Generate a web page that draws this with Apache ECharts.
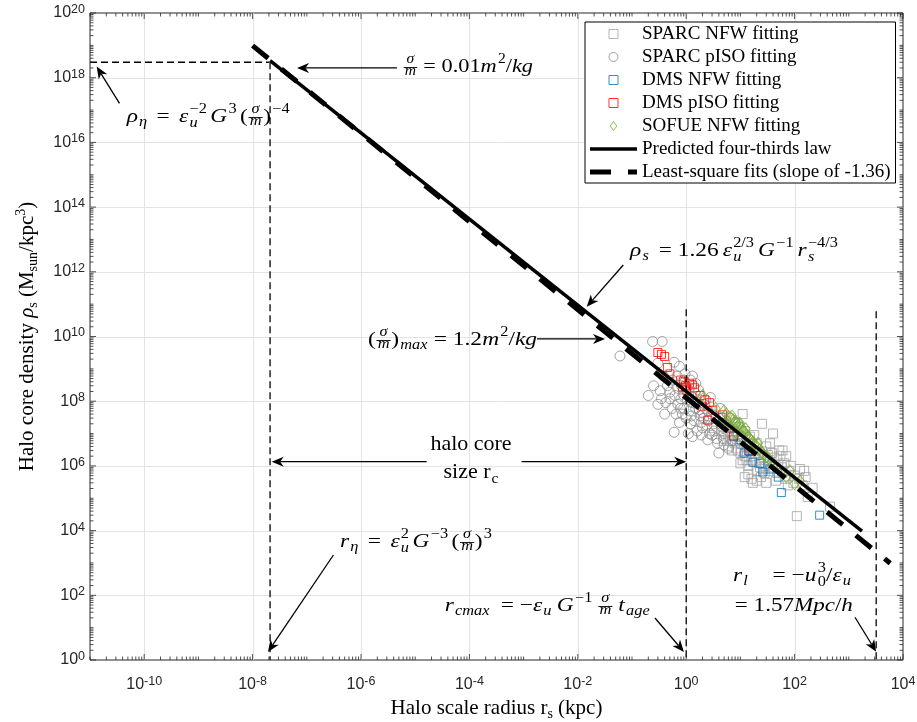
<!DOCTYPE html>
<html>
<head>
<meta charset="utf-8">
<script src="https://cdn.jsdelivr.net/npm/echarts@6/dist/echarts.min.js"></script>
<style>
  html, body { margin: 0; padding: 0; background: #fff; }
  #chart { width: 917px; height: 722px; }
</style>
</head>
<body>
<div id="chart"></div>
<script>
// ---- axes ----
const xRange = [1e-11, 1e4];           // halo scale radius r_s (kpc)
const yRange = [1e0, 1e20];            // halo core density rho_s (Msun/kpc^3)
const xLabelExps = [-10, -8, -6, -4, -2, 0, 2, 4];
const yLabelExps = [0, 2, 4, 6, 8, 10, 12, 14, 16, 18, 20];

// ---- fitted halos: [r_s (kpc), rho_s (Msun/kpc^3)] ----
const sparcNfw = [
  [4.2,3e7],[8,2.2e7],[12,1.2e7],[6,1e7],[10,6e6],[15,8e6],[20,5e6],[9,3e6],[13,2.5e6],[18,2e6],
  [14,1e6],[22,1.2e6],[25,2.8e6],[30,4e6],[35,1.5e6],[40,9e5],[50,1.1e6],[60,6e5],[80,7e5],[100,5e5],
  [126,8e5],[120,4e5],[215,2.1e5],[175,1.1e5],[450,5.5e4],[110,2.8e4],[16,4e5],[20,3.5e5],[12,4.5e5],[28,6e5],
  [45,3.5e5],[6,4e6],[7.5,1.6e7],[5,2e7],[11,4e7],[3,1.5e7],[25,2e7],[40,1e7],[35,5e6],[60,3e6],
  [70,2e6],[18,9e6],[9,8e6],[26,8e5],[55,2e6],[16,1.5e6],[10,1.2e6],[12,2e6],[8,5e6],[14,5e6],
  [30,3e5],[75,2.5e5],[65,1.2e6],[150,7e5],[5,6e6],[7,3e6],[20,7e5],[24,4.5e5],[11,1.5e6],[32,2.2e6],
  [4.5,1.2e7],[5.5,1.5e7],[6.5,6e6],[7,1.2e7],[8.5,3.5e6],[9.5,1.6e7],[10,2.5e6],[11,8e6],[13,4e6],[13,1.5e6],
  [15,3.5e6],[17,3e6],[19,1.3e6],[21,2.5e6],[23,9e5],[27,1.8e6],[29,1e6],[33,7e5],[38,2.5e6],[42,1.8e6],
  [48,6e5],[52,3e6],[58,9e5],[68,4e5],[85,1e6],[95,3e5],[140,2.5e5],[160,4.5e5],[14,5.5e5],[17,3e5]
];
const sparcPiso = [
  [0.06,2.5e9],[0.24,7e9],[0.36,7e9],[0.3,1.5e9],[0.6,1.6e9],[0.68,6e8],[0.95,7e8],[0.33,2.1e8],[0.5,1.9e8],[0.45,3e8],
  [0.3,8e7],[0.55,6e7],[0.7,8e7],[0.8,1.2e8],[0.9,4.5e8],[1.0,2.8e8],[1.2,4.5e8],[1.1,1.7e8],[1.5,3.5e8],[1.7,2.2e8],
  [0.85,4e7],[1.0,3e7],[1.3,9e7],[1.5,6e7],[1.2,2e7],[1.6,1.2e7],[2.0,1.5e7],[1.8,3.5e7],[2.2,8e7],[2.5,5e7],
  [2.8,1.3e8],[1.3,8e6],[3.0,9e6],[2.6,2.5e7],[3.5,3e7],[4.2,6e7],[4.5,1.6e7],[3.8,5e6],[5,1e7],[5.5,2.5e7],
  [6.5,3e7],[7,6e6],[6,3.5e6],[8,1.2e7],[9,2e7],[10,5e6],[0.75,2.2e7],[2.5,6.4e6],[4,2.5e6],[1.1,1e7],
  [0.4,4e7],[0.6,1.1e7],[0.7,2.5e8],[1.3,1.3e8],[2,4.5e7],[3.2,2e7],[0.9,6e7],[1.9,9e6],[2.7,1e7],[5,4.5e6],
  [0.35,1.2e8],[0.42,9e7],[0.5,1.2e8],[0.62,1.5e8],[0.65,4e7],[0.78,6e7],[0.82,3e8],[0.88,1.6e8],[1.05,1.1e8],[1.15,5e7],
  [1.25,3.5e7],[1.4,2.5e7],[1.45,1.8e8],[1.6,9e7],[1.75,5.5e7],[1.9,2.2e7],[2.1,3e7],[2.3,1.1e8],[2.4,1.8e7],[2.9,4e7],
  [3.3,1.2e7],[3.6,7e6],[0.55,4.5e8],[0.38,6e8],[0.25,3e8],[0.2,1.5e8],[0.75,1.2e9],[1.3,6e8],[4.8,7e6],[6,1.5e7]
];
const dmsNfw = [
  [4.7,3.2e7],[7.5,8e6],[10.3,6.3e6],[11.7,2.5e6],[17,1.3e6],[23,1.2e6],[26,6.5e5],[50,4.5e5],
  [57,1.5e5],[290,3e4],[14,3e6],[35,8e5]
];
const dmsPiso = [
  [0.3,3.2e9],[0.35,2.8e9],[0.4,2.4e9],[0.45,1.1e9],[0.5,7e8],[0.79,4.5e8],[0.9,4e8],[0.97,3e8],[1.15,3.6e8],[1.3,3.2e8],
  [1.42,2.6e8],[1.0,2.2e8],[0.85,2.7e8],[1.8,1.5e8],[2.2,1.1e8],[2.7,9e7],[2.0,7e7],[3.1,5.3e7],[4.7,3.8e7],[2.5,2.6e7],
  [7.5,8.5e6],[15,2.8e6]
];
const sofueNfw = [
  [2.0,1.5e8],[5.0,5e7],[5.5,4e7],[6.4,3.2e7],[7.0,3.5e7],[7.3,2.6e7],[8.0,2.4e7],[8.6,2.1e7],[9.8,2.1e7],[9,1.6e7],
  [10.5,1.5e7],[11,1.2e7],[12,1.1e7],[12.5,1.4e7],[13,9e6],[14,8e6],[15,7e6],[16,6e6],[17,5.5e6],[18,4.5e6],
  [20,4e6],[21,5e6],[23,3.2e6],[25,2.6e6],[27,2.2e6],[30,1.9e6],[33,1.7e6],[38,1.3e6],[42,1.1e6],[50,8e5],
  [60,6e5],[70,4.6e5],[82,7e5],[100,2.8e5],[126,3.4e5],[6,1.8e7],[10,9e6],[8,1.1e7],[3.5,6e7]
];

// ---- laws ----
const predictedLaw = [[2.1e-8, 3.4e18], [1.75e3, 9.6e3]];      // slope -4/3
const leastSquareFit = [[1e-8, 9.8e18], [5.8e3, 9.8e2]];        // slope -1.36

// ---- characteristic scales (dashed guides) ----
const rhoEtaGuide = [[1e-11, 3e18], [2.0e-8, 3e18]];
const rEtaGuide = [[2.1e-8, 3e18], [2.1e-8, 1]];
const rCmaxGuide = [[1, 7e10], [1, 1]];
const rLGuide = [[3.2e3, 6e10], [3.2e3, 1]];

// ---- annotation arrows: [from, tip] in data coordinates ----
const arrows = [
  [[4.6e-6, 2.0e18], [6.6e-8, 2.0e18]],
  [[3.5e-11, 1.6e17], [1.33e-11, 2.2e18]],
  [[0.069, 1.62e12], [0.0146, 8.3e10]],
  [[1.77e-3, 8.4e9], [0.0318, 8.4e9]],
  [[1.63e-5, 1.35e6], [2.25e-8, 1.35e6]],
  [[9.2e-4, 1.35e6], [1.0, 1.35e6]],
  [[3.1e-7, 1.76e3], [1.92e-8, 1.77]],
  [[0.265, 19.9], [0.91, 1.77]],
  [[1.3e3, 21], [3.2e3, 1.8]]
];

const SERIF = '"Liberation Serif", "Times New Roman", serif';
const SANS = '"Liberation Sans", Arial, Helvetica, sans-serif';
const AXIS_COLOR = '#262626';

// legend glyphs
const ICON_SQUARE = 'path://M0,0L10,0L10,10L0,10Z';
const ICON_CIRCLE = 'path://M5,0A5,5,0,1,1,5,10A5,5,0,1,1,5,0Z';
const ICON_DIAMOND = 'path://M4,0L8,5.5L4,11L0,5.5Z';
const ICON_SOLID = 'path://M0,0L47,0L47,3.5L0,3.5Z';
const ICON_DASHED = 'path://M0,0L21,0L21,5L0,5Z M38,0L47,0L47,5L38,5Z';

function decadeLabel(v) {
  const e = Math.round(Math.log10(v));
  if (e % 2 !== 0) return '';
  return '{b|10}{s|' + e + '}';
}
const tickRich = {
  b: { fontFamily: SANS, fontSize: 16, color: AXIS_COLOR, lineHeight: 20 },
  s: { fontFamily: SANS, fontSize: 12.5, color: AXIS_COLOR, lineHeight: 9, verticalAlign: 'top' }
};

function scatterSeries(name, data, symbol, size, color) {
  return {
    name, type: 'scatter', data, symbol, symbolSize: size, z: 2,
    itemStyle: { color: 'rgba(255,255,255,0)', borderColor: color, borderWidth: 1 },
    emphasis: { disabled: true }, silent: true
  };
}
function guideSeries(name, data) {
  return {
    name, type: 'line', data, symbol: 'none', z: 3, silent: true,
    lineStyle: { color: '#000', width: 1.3, type: [7, 4] }
  };
}

const option = {
  animation: false,
  backgroundColor: '#fff',
  textStyle: { fontFamily: SERIF },
  grid: {
    left: 90, right: 14, top: 13, bottom: 62, containLabel: false, outerBoundsMode: 'none',
    show: true, borderColor: AXIS_COLOR, borderWidth: 1, backgroundColor: '#fff'
  },
  legend: {
    orient: 'vertical', left: 585, top: 22, align: 'left',
    padding: [1, 5, 0, 5], itemGap: 1, itemWidth: 47, itemHeight: 9,
    backgroundColor: '#fff', borderColor: '#000', borderWidth: 1,
    textStyle: { fontFamily: SERIF, fontSize: 19, color: '#000', lineHeight: 22 },
    data: [
      { name: 'SPARC NFW fitting', icon: ICON_SQUARE, itemStyle: { borderWidth: 1 } },
      { name: 'SPARC pISO fitting', icon: ICON_CIRCLE, itemStyle: { borderWidth: 1 } },
      { name: 'DMS NFW fitting', icon: ICON_SQUARE, itemStyle: { borderWidth: 1 } },
      { name: 'DMS pISO fitting', icon: ICON_SQUARE, itemStyle: { borderWidth: 1 } },
      { name: 'SOFUE NFW fitting', icon: ICON_DIAMOND, itemStyle: { borderWidth: 1 } },
      { name: 'Predicted four-thirds law', icon: ICON_SOLID, itemStyle: { borderWidth: 0 } },
      { name: 'Least-square fits (slope of -1.36)', icon: ICON_DASHED, itemStyle: { borderWidth: 0 } }
    ],
    selectedMode: false
  },
  xAxis: {
    type: 'log', logBase: 10, min: xRange[0], max: xRange[1], interval: 1,
    axisLine: { show: false }, axisTick: { show: false }, splitLine: { show: false },
    axisLabel: { formatter: decadeLabel, rich: tickRich, margin: 15, hideOverlap: false, showMinLabel: true, showMaxLabel: true },
    name: '{t|Halo scale radius r}{sub|s}{t| (kpc)}',
    nameLocation: 'middle', nameGap: 29,
    nameTextStyle: {
      rich: {
        t: { fontFamily: SERIF, fontSize: 21, color: '#000', lineHeight: 26 },
        sub: { fontFamily: SERIF, fontSize: 14, color: '#000', lineHeight: 8, verticalAlign: 'bottom' }
      }
    }
  },
  yAxis: {
    type: 'log', logBase: 10, min: yRange[0], max: yRange[1], interval: 1,
    axisLine: { show: false }, axisTick: { show: false }, splitLine: { show: false },
    axisLabel: { formatter: decadeLabel, rich: tickRich, margin: 5, hideOverlap: false, showMinLabel: true, showMaxLabel: true },
    name: '{t|Halo core density }{g|ρ}{sub|s}{t| (M}{sub|sun}{t|/kpc}{sup|3}{t|)}',
    nameLocation: 'middle', nameGap: 50, nameRotate: 90,
    nameTextStyle: {
      rich: {
        t: { fontFamily: SERIF, fontSize: 21, color: '#000', lineHeight: 26 },
        g: { fontFamily: SERIF, fontSize: 21, fontStyle: 'italic', color: '#000', lineHeight: 26 },
        sub: { fontFamily: SERIF, fontSize: 14, color: '#000', lineHeight: 8, verticalAlign: 'bottom' },
        sup: { fontFamily: SERIF, fontSize: 14, color: '#000', lineHeight: 8, verticalAlign: 'top' }
      }
    }
  },
  series: [
    scatterSeries('SPARC NFW fitting', sparcNfw, 'rect', 9, '#a3a3a3'),
    scatterSeries('SPARC pISO fitting', sparcPiso, 'circle', 10, '#8c8c8c'),
    scatterSeries('DMS NFW fitting', dmsNfw, 'rect', 8, '#0072BD'),
    scatterSeries('DMS pISO fitting', dmsPiso, 'rect', 8, '#FF0000'),
    scatterSeries('SOFUE NFW fitting', sofueNfw, 'diamond', [9, 12], '#77AC30'),
    guideSeries('rhoEta', rhoEtaGuide),
    guideSeries('rEta', rEtaGuide),
    guideSeries('rCmax', rCmaxGuide),
    guideSeries('rL', rLGuide),
    {
      name: 'Predicted four-thirds law', type: 'line', data: predictedLaw, symbol: 'none', z: 4, silent: true,
      itemStyle: { color: '#000' },
      lineStyle: { color: '#000', width: 3.5 }
    },
    {
      name: 'Least-square fits (slope of -1.36)', type: 'line', data: leastSquareFit, symbol: 'none', z: 5, silent: true,
      itemStyle: { color: '#000' },
      lineStyle: { color: '#000', width: 5, type: [20, 17] }
    }
  ]
};

const chart = echarts.init(document.getElementById('chart'));
chart.setOption(option);

const px = p => chart.convertToPixel({ gridIndex: 0 }, p);

// ---- math-style text layout ----
const mctx = document.createElement('canvas').getContext('2d');
function fontOf(sz, it) { return (it ? 'italic ' : '') + sz + 'px ' + SERIF; }
function measure(t, sz, it) { mctx.font = fontOf(sz, it); return mctx.measureText(t).width; }

function layout(tokens, S) {
  const parts = [], bars = [], stops = [];
  let x = 0;
  tokens.forEach((tk, i) => {
    const k = tk[0];
    const prev = tokens[i - 1];
    let w = 0;
    // a new atom may take extra room, except inside brackets, around a slash
    // and right after a leading minus sign
    const tight = !prev || (prev[0] === 'r' && /[(/−]$/.test(prev[1])) || (k === 'r' && /^[)/]/.test(tk[1]));
    stops.push(!tight && (k === 'i' || k === 'r' || k === 'frac') ? 1 : 0);
    if (k === 'i' || k === 'r') {
      w = measure(tk[1], S, k === 'i');
      parts.push({ t: tk[1], x, dy: 0, sz: S, it: k === 'i', idx: i });
    } else if (k === 'sub') {
      const s = 0.7 * S, it = tk[2] !== false;
      w = measure(tk[1], s, it) + 1;
      parts.push({ t: tk[1], x: x + 1, dy: 0.22 * S, sz: s, it, idx: i });
    } else if (k === 'sup') {
      const s = 0.7 * S;
      w = measure(tk[1], s, false) + 1;
      parts.push({ t: tk[1], x: x + 1, dy: -0.45 * S, sz: s, it: false, idx: i });
    } else if (k === 'ss') {
      const s = 0.7 * S, subIt = !/^\d/.test(tk[1]);
      const w1 = measure(tk[1], s, subIt), w2 = measure(tk[2], s, false);
      w = Math.max(w1, w2) + 1;
      parts.push({ t: tk[1], x: x + 1, dy: 0.27 * S, sz: s, it: subIt, idx: i });
      parts.push({ t: tk[2], x: x + 1, dy: -0.45 * S, sz: s, it: false, idx: i });
    } else if (k === 'frac') {
      const s = 0.7 * S;
      const wn = measure(tk[1], s, true), wd = measure(tk[2], s, true);
      w = Math.max(wn, wd) + 3;
      parts.push({ t: tk[1], x: x + (w - wn) / 2, dy: -0.45 * S, sz: s, it: true, idx: i });
      parts.push({ t: tk[2], x: x + (w - wd) / 2, dy: 0.14 * S, sz: s, it: true, idx: i });
      bars.push({ x1: x + 0.5, x2: x + w - 0.5, dy: -0.3 * S, idx: i });
    }
    x += w;
  });
  const shift = [];
  let acc = 0;
  stops.forEach((s, i) => { acc += s; shift[i] = acc; });
  return { parts, bars, width: x, gaps: acc, shift };
}

// Lays a formula out from its left baseline anchor (or centre); glyphs are widened
// slightly and any remaining room goes between atoms so it spans `target` pixels.
function formula(anchor, tokens, S, target, center) {
  const L = layout(tokens, S);
  let f = 1, extra = 0;
  if (target) {
    f = Math.min(1.2, Math.max(1, target / L.width));
    extra = L.gaps > 0 ? Math.max(0, (target - L.width * f) / L.gaps) : 0;
  }
  const total = L.width * f + extra * L.gaps;
  const p = px(anchor);
  const x0 = center ? p[0] - total / 2 : p[0];
  const base = p[1];
  const els = [];
  L.parts.forEach(q => {
    els.push({
      type: 'text', z: 20, silent: true,
      x: x0 + q.x * f + L.shift[q.idx] * extra, y: base + q.dy - 0.33 * q.sz,
      scaleX: f,
      style: {
        text: q.t, x: 0, y: 0,
        font: fontOf(q.sz, q.it), fill: '#000',
        textAlign: 'left', textVerticalAlign: 'middle', verticalAlign: 'middle'
      }
    });
  });
  L.bars.forEach(b => {
    const y = Math.round(base + b.dy) + 0.5;
    const off = L.shift[b.idx] * extra;
    els.push({
      type: 'line', z: 20, silent: true,
      shape: { x1: x0 + b.x1 * f + off, y1: y, x2: x0 + b.x2 * f + off, y2: y },
      style: { stroke: '#000', lineWidth: 0.9 }
    });
  });
  return els;
}

function arrow(from, tip) {
  const a = px(from), b = px(tip);
  const dx = b[0] - a[0], dy = b[1] - a[1], len = Math.hypot(dx, dy);
  const ux = dx / len, uy = dy / len, nx = -uy, ny = ux;
  const HL = 12, HW = 5, NOTCH = 8.5;
  const back = [b[0] - ux * HL, b[1] - uy * HL];
  const notch = [b[0] - ux * NOTCH, b[1] - uy * NOTCH];
  return [
    { type: 'line', z: 20, silent: true,
      shape: { x1: a[0], y1: a[1], x2: notch[0], y2: notch[1] },
      style: { stroke: '#000', lineWidth: 1.3 } },
    { type: 'polygon', z: 20, silent: true,
      shape: { points: [b, [back[0] + nx * HW, back[1] + ny * HW], notch, [back[0] - nx * HW, back[1] - ny * HW]] },
      style: { fill: '#000' } }
  ];
}

function gridAndTicks() {
  const els = [];
  const bl = px([xRange[0], yRange[0]]);
  const tr = px([xRange[1], yRange[1]]);
  const hline = (x1, y1, x2, y2, c, w, z) => ({
    type: 'line', z, silent: true, shape: { x1, y1, x2, y2 }, style: { stroke: c, lineWidth: w }
  });
  // light grid at labelled decades
  xLabelExps.forEach(e => {
    const v = Math.pow(10, e);
    if (v <= xRange[0] || v >= xRange[1]) return;
    const x = Math.round(px([v, yRange[0]])[0]) + 0.5;
    els.push(hline(x, bl[1], x, tr[1], '#e3e3e3', 1, 0));
  });
  yLabelExps.forEach(e => {
    const v = Math.pow(10, e);
    if (v <= yRange[0] || v >= yRange[1]) return;
    const y = Math.round(px([xRange[0], v])[1]) + 0.5;
    els.push(hline(bl[0], y, tr[0], y, '#e3e3e3', 1, 0));
  });
  // inward ticks on all four sides: long at labelled decades, short elsewhere
  const lx0 = Math.round(Math.log10(xRange[0])), lx1 = Math.round(Math.log10(xRange[1]));
  for (let e = lx0; e <= lx1; e++) {
    for (let k = 1; k <= 9; k++) {
      const v = k * Math.pow(10, e);
      if (v > xRange[1] * 1.0001) break;
      const len = (k === 1 && e % 2 === 0) ? 6 : 3.5;
      const x = px([v, yRange[0]])[0];
      els.push(hline(x, bl[1], x, bl[1] - len, AXIS_COLOR, 0.8, 15));
      els.push(hline(x, tr[1], x, tr[1] + len, AXIS_COLOR, 0.8, 15));
    }
  }
  const ly0 = Math.round(Math.log10(yRange[0])), ly1 = Math.round(Math.log10(yRange[1]));
  for (let e = ly0; e <= ly1; e++) {
    for (let k = 1; k <= 9; k++) {
      const v = k * Math.pow(10, e);
      if (v > yRange[1] * 1.0001) break;
      const len = (k === 1 && e % 2 === 0) ? 6 : 3.5;
      const y = px([xRange[0], v])[1];
      els.push(hline(bl[0], y, bl[0] + len, y, AXIS_COLOR, 0.8, 15));
      els.push(hline(tr[0], y, tr[0] - len, y, AXIS_COLOR, 0.8, 15));
    }
  }
  return els;
}

const S = 19.5;
let elements = gridAndTicks();
arrows.forEach(a => { elements = elements.concat(arrow(a[0], a[1])); });
elements = elements.concat(
  formula([5.96e-6, 1.4e18], [['frac','σ','m'], ['r',' = 0.01'], ['i','m'], ['sup','2'], ['r','/'], ['i','kg']], S, 130),
  formula([4.75e-11, 4.0e16], [['i','ρ'], ['sub','η'], ['r',' = '], ['i','ε'], ['ss','u','−2'], ['i','G'], ['sup','3'],
                               ['r','('], ['frac','σ','m'], ['r',')'], ['sup','−4']], S, 163),
  formula([0.092, 2.9e12], [['i','ρ'], ['sub','s'], ['r',' = 1.26'], ['i','ε'], ['ss','u','2/3'], ['i','G'], ['sup','−1'],
                            ['i','r'], ['ss','s','−4/3']], S, 208),
  formula([1.35e-6, 5.1e9], [['r','('], ['frac','σ','m'], ['r',')'], ['sub','max'], ['r',' = 1.2'], ['i','m'], ['sup','2'],
                             ['r','/'], ['i','kg']], S, 169),
  formula([4.1e-7, 2.9e3], [['i','r'], ['sub','η'], ['r',' = '], ['i','ε'], ['ss','u','2'], ['i','G'], ['sup','−3'],
                            ['r','('], ['frac','σ','m'], ['r',')'], ['sup','3']], S, 152),
  formula([3.5e-5, 30.5], [['i','r'], ['sub','cmax'], ['r',' = −'], ['i','ε'], ['sub','u'], ['i','G'], ['sup','−1'],
                           ['frac','σ','m'], ['i','t'], ['sub','age']], S, 205),
  formula([7.3, 258], [['i','r'], ['sub','l'], ['r',' = −'], ['i','u'], ['ss','0','3'], ['r','/'], ['i','ε'], ['sub','u']], S, 118),
  formula([7.9, 30.5], [['r','= 1.57'], ['i','Mpc'], ['r','/'], ['i','h']], S, 118),
  formula([1.07e-4, 2.7e6], [['r','halo core']], 22, 0, true),
  formula([1.07e-4, 3.9e5], [['r','size r'], ['sub','c', false]], 22, 0, true)
);
chart.setOption({ graphic: elements });
</script>
</body>
</html>
